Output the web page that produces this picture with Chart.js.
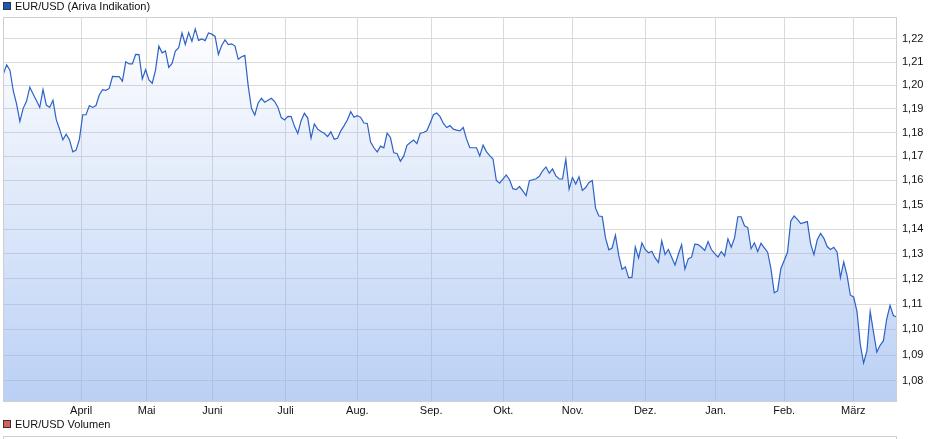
<!DOCTYPE html>
<html>
<head>
<meta charset="utf-8">
<script src="https://cdn.jsdelivr.net/npm/chart.js@4.4.1/dist/chart.umd.min.js"></script>
<style>
html,body{margin:0;padding:0;background:#fff;}
#wrap{position:relative;width:940px;height:439px;overflow:hidden;font-family:"Liberation Sans",Arial,sans-serif;}
#c{position:absolute;left:0;top:0;}
.lg{position:absolute;left:15px;font-size:11px;line-height:12px;color:#111;white-space:nowrap;}
.sw{position:absolute;left:3px;width:6px;height:6px;border:1px solid #333;}
#vline{position:absolute;left:3px;top:436px;width:894px;height:0;border-top:1px solid #d0d0d0;}
#vl1{position:absolute;left:3px;top:436px;width:0;height:10px;border-left:1px solid #d0d0d0;}
#vl2{position:absolute;left:896px;top:436px;width:0;height:10px;border-left:1px solid #d0d0d0;}
</style>
</head>
<body>
<div id="wrap">
<canvas id="c" width="940" height="439"></canvas>
<div class="sw" style="top:2px;background:#1f56c4;"></div>
<div class="lg" style="top:0px;">EUR/USD (Ariva Indikation)</div>
<div class="sw" style="top:420px;background:#d9605a;"></div>
<div class="lg" style="top:418px;">EUR/USD Volumen</div>
<div id="vline"></div><div id="vl1"></div><div id="vl2"></div>
</div>
<script>
// EUR/USD daily closes (trading days)
const rates = [
1.2048,1.2088,1.2065,1.1977,1.1921,1.1847,1.1902,1.1932,1.1992,1.1963,
1.1935,1.1906,1.1982,1.1916,1.1906,1.1936,1.1854,1.1814,1.1769,1.1793,
1.1769,1.1719,1.1726,1.1772,1.1875,1.1875,1.1914,1.1906,1.1914,1.1959,
1.1982,1.1979,1.1987,1.2038,1.2037,1.2037,1.2018,1.2101,1.2092,1.2092,
1.2133,1.2132,1.2027,1.2067,1.2023,1.2009,1.2065,1.2169,1.2140,1.2148,
1.2077,1.2094,1.2148,1.2162,1.2226,1.2176,1.2228,1.2190,1.2244,1.2194,
1.2200,1.2193,1.2226,1.2221,1.2211,1.2133,1.2172,1.2196,1.2176,1.2179,
1.2169,1.2112,
1.2123,1.2129,1.1999,1.1902,1.1874,1.1924,1.1945,1.1928,1.1936,1.1945,
1.1931,1.1906,1.1863,1.1853,1.1868,1.1867,1.1826,1.1796,1.1850,1.1881,
1.1861,1.1776,1.1836,1.1814,1.1804,1.1797,1.1783,1.1803,1.1772,1.1776,
1.1807,1.1829,1.1854,1.1888,1.1864,1.1871,1.1864,1.1840,1.1838,1.1760,
1.1736,1.1719,1.1743,1.1736,1.1797,1.1779,1.1715,1.1712,1.1680,1.1701,
1.1746,1.1758,1.1768,1.1753,1.1797,1.1800,1.1807,1.1840,1.1875,1.1882,
1.1867,1.1838,1.1821,1.1829,1.1814,1.1810,1.1807,1.1821,1.1772,1.1736,
1.1736,1.1736,1.1702,1.1747,1.1720,1.1703,1.1689,1.1600,1.1589,1.1606,
1.1623,1.1603,1.1566,1.1562,1.1575,1.1557,1.1538,1.1599,1.1603,1.1607,
1.1617,1.1640,1.1656,1.1630,1.1648,1.1619,1.1606,1.1606,1.1688,1.1564,
1.1612,1.1585,1.1615,1.1559,1.1571,1.1592,1.1600,1.1486,1.1454,1.1452,
1.1365,1.1317,1.1324,1.1376,1.1294,1.1239,1.1248,1.1204,1.1207,1.1328,
1.1284,1.1344,1.1318,1.1305,1.1311,1.1284,1.1266,1.1353,1.1298,1.1318,
1.1287,1.1256,1.1298,1.1338,1.1239,1.1280,1.1287,1.1340,1.1338,
1.1327,1.1314,1.1350,1.1318,1.1301,1.1288,1.1310,1.1292,1.1361,1.1327,
1.1365,1.1451,1.1451,1.1414,1.1407,1.1321,1.1345,1.1310,1.1343,1.1325,
1.1307,1.1241,1.1145,1.1152,1.1241,1.1274,1.1307,1.1434,1.1454,1.1440,
1.1423,1.1427,1.1431,1.1341,1.1297,1.1358,1.1383,1.1363,1.1330,1.1318,
1.1327,1.1307,1.1205,1.1268,1.1214,1.1135,1.1128,1.1071,1.0942,1.0869,
1.0916,1.1071,1.0989,1.0912,1.0938,1.0956,1.1042,1.1095,1.1055,1.1049
];
// month labels and their position on the trading-day axis
const monthLabels = ['April','Mai','Juni','Juli','Aug.','Sep.','Okt.','Nov.','Dez.','Jan.','Feb.','März'];
const monthStartIdx = [23.5,43.3,63.2,85.3,107.0,129.3,151.1,172.1,194.0,215.3,236.0,256.9];
// y tick values
const yTickValues = [1.08,1.09,1.10,1.11,1.12,1.13,1.14,1.15,1.16,1.17,1.18,1.19,1.20,1.21,1.22];

const points = rates.map((v,i)=>({x:i,y:v}));

const frame = {
  id:'frame',
  afterDraw(chart){
    const a = chart.chartArea, ctx = chart.ctx;
    ctx.save();
    ctx.strokeStyle = '#cfcfcf';
    ctx.lineWidth = 1;
    ctx.strokeRect(Math.round(a.left)+0.5, Math.round(a.top)+0.5, Math.round(a.right-a.left)-1, Math.round(a.bottom-a.top));
    ctx.restore();
  }
};

new Chart(document.getElementById('c'), {
  type:'line',
  data:{datasets:[{
    data:points,
    borderColor:'#2d62c6',
    borderWidth:1.2,
    pointRadius:0,
    tension:0,
    fill:'start',
    backgroundColor:(ctx)=>{
      const a = ctx.chart.chartArea;
      if(!a) return 'rgba(147,180,238,0.3)';
      const g = ctx.chart.ctx.createLinearGradient(0,a.top,0,a.bottom);
      g.addColorStop(0,'rgba(147,180,238,0.0)');
      g.addColorStop(1,'rgba(140,176,238,0.6)');
      return g;
    }
  }]},
  options:{
    responsive:false,
    animation:false,
    devicePixelRatio:1,
    layout:{padding:{left:3,top:17,right:0,bottom:0}},
    plugins:{legend:{display:false},tooltip:{enabled:false}},
    scales:{
      x:{
        type:'linear',
        min:-0.1, max:270.1,
        afterBuildTicks:(s)=>{ s.ticks = monthStartIdx.map(v=>({value:v})); },
        afterFit:(s)=>{ s.height = 38; },
        grid:{color:'#dadada',drawTicks:false,lineWidth:1},
        border:{display:false},
        ticks:{
          autoSkip:false,maxRotation:0,padding:3,
          color:'#111',
          font:{family:'"Liberation Sans", Arial, sans-serif',size:11},
          callback:(v,i)=>monthLabels[i]
        }
      },
      y:{
        type:'logarithmic',
        position:'right',
        min:1.0723, max:1.2296,
        afterBuildTicks:(s)=>{ s.ticks = yTickValues.map(v=>({value:v})); },
        afterFit:(s)=>{ s.width = 43; },
        grid:{color:'#dadada',drawTicks:false,lineWidth:1},
        border:{display:false},
        ticks:{
          autoSkip:false,padding:5,
          color:'#111',
          font:{family:'"Liberation Sans", Arial, sans-serif',size:11},
          callback:(v)=>Number(v).toFixed(2).replace('.',',')
        }
      }
    }
  },
  plugins:[frame]
});
</script>
</body>
</html>
